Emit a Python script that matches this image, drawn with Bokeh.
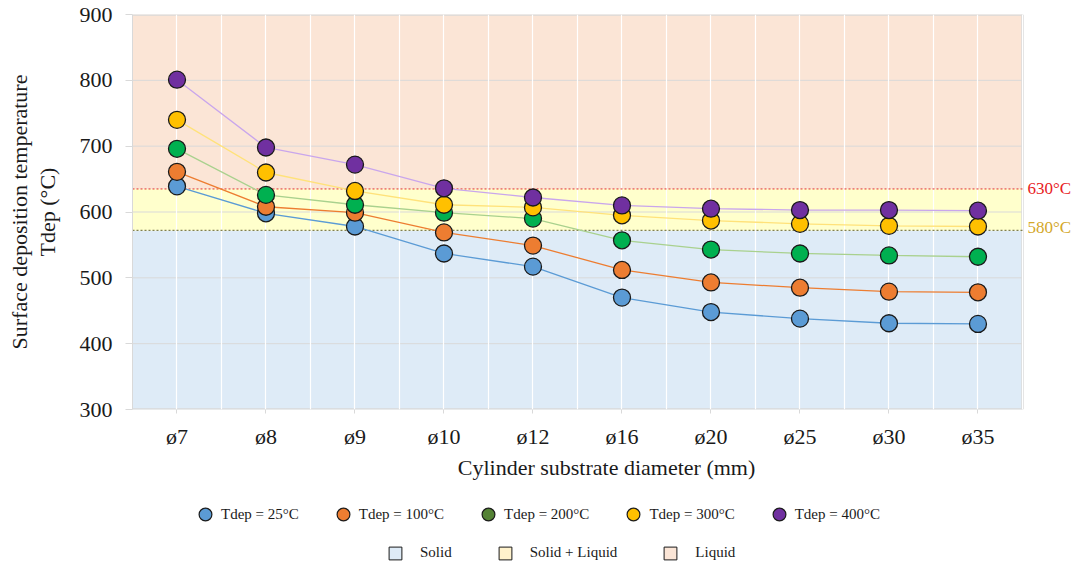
from bokeh.plotting import figure
from bokeh.layouts import column
from bokeh.models import (Range1d, FixedTicker, Label, Legend, LegendItem,
                          ColumnDataSource, LinearAxis)
from bokeh.embed import file_html
from bokeh.resources import INLINE

# ---------------- data ----------------
categories = ["ø7", "ø8", "ø9", "ø10", "ø12", "ø16", "ø20", "ø25", "ø30", "ø35"]
t25 = [639, 598, 578, 537, 517, 470, 448, 438, 431, 430]
t100 = [661, 608, 599, 569, 549, 512, 493, 485, 479, 478]
t200 = [696, 626, 611, 599, 590, 557, 543, 537, 534, 532]
t300 = [740, 660, 632, 611, 607, 595, 587, 582, 579, 578]
t400 = [801, 698, 672, 636, 622, 610, 605, 603, 603, 602]
series_names = ["Tdep = 25°C", "Tdep = 100°C", "Tdep = 200°C", "Tdep = 300°C", "Tdep = 400°C"]

band_names = ["Solid", "Solid + Liquid", "Liquid"]
band_bottom = [300, 572, 635]
band_top = [572, 635, 900]
threshold_labels = ["630°C", "580°C"]
y_ticks = [300, 400, 500, 600, 700, 800, 900]

# ---------------- styles ----------------
FONT = "Liberation Serif"
TXT = "#1A1A1A"
marker_colors = ["#5B9BD5", "#ED7D31", "#00B050", "#FFC000", "#7030A0"]
legend_marker_colors = ["#5B9BD5", "#ED7D31", "#548235", "#FFC000", "#7030A0"]
line_colors = ["#5B9BD5", "#ED7D31", "#A9D18E", "#FFE27A", "#C9A6EC"]
band_colors = ["#DEEBF7", "#FFFFCC", "#FBE5D6"]
legend_band_colors = ["#DEEBF7", "#FFF2CC", "#FBE5D6"]
BORDER = "#D9D9D9"

n = len(categories)
x = list(range(n))
x_lo, x_hi = -0.5, n - 0.5
y_lo, y_hi = y_ticks[0], y_ticks[-1]

# frame extends to the right edge so that the threshold labels can sit beside the plot
p = figure(width=1080, height=482, output_backend="svg", toolbar_location=None,
           x_range=Range1d(x_lo, x_hi + 0.652), y_range=Range1d(y_lo, y_hi),
           min_border_left=132, min_border_right=0, min_border_top=14, min_border_bottom=0)
p.background_fill_color = "white"
p.border_fill_color = "white"
p.outline_line_color = None

# background bands
for b0, b1, c in zip(band_bottom, band_top, band_colors):
    p.quad(left=[x_lo], right=[x_hi], bottom=[b0], top=[b1],
           fill_color=c, line_color=None, level="image")

# grids
p.xgrid.ticker = FixedTicker(ticks=[x_lo + i * 0.5 for i in range(2 * n + 1)])
p.xgrid.grid_line_color = "white"
p.xgrid.grid_line_width = 1.2
p.ygrid.grid_line_color = None
inner = y_ticks[1:-1]
p.segment(x0=[x_lo] * len(inner), x1=[x_hi] * len(inner), y0=inner, y1=inner,
          line_color=BORDER, line_width=1, level="underlay")
# plot-area border (top, bottom, right)
p.segment(x0=[x_lo, x_lo, x_hi], x1=[x_hi, x_hi, x_hi], y0=[y_lo, y_hi, y_lo],
          y1=[y_lo, y_hi, y_hi], line_color=BORDER, line_width=2.5, level="underlay")

# threshold lines
p.segment(x0=[x_lo], x1=[x_hi], y0=[band_top[1]], y1=[band_top[1]],
          line_color="#E03030", line_dash="2 2", line_width=1)
p.segment(x0=[x_lo], x1=[x_hi], y0=[band_top[0]], y1=[band_top[0]],
          line_color="#7F7F50", line_dash="2 2", line_width=1.3)
p.add_layout(Label(x=x_hi, y=band_top[1], x_offset=5, text=threshold_labels[0],
                   text_color="#E8201C", text_font=FONT, text_font_size="17px",
                   text_baseline="middle"))
p.add_layout(Label(x=x_hi, y=band_top[0], x_offset=5, y_offset=3,
                   text=threshold_labels[1],
                   text_color="#D4A82A", text_font=FONT, text_font_size="17px",
                   text_baseline="middle"))

# series
for vals, lc, mc in zip([t25, t100, t200, t300, t400], line_colors, marker_colors):
    src = ColumnDataSource(dict(x=x, y=vals))
    p.line("x", "y", source=src, line_color=lc, line_width=1.3)
    p.scatter("x", "y", source=src, size=17, fill_color=mc, line_color=TXT,
              line_width=1.3)

# axes
p.xaxis.ticker = FixedTicker(ticks=x)
p.xaxis.major_label_overrides = {i: c for i, c in enumerate(categories)}
p.xaxis.axis_label = "Cylinder substrate diameter (mm)"
p.yaxis.ticker = FixedTicker(ticks=y_ticks)
p.yaxis.axis_label = "Tdep (°C)"
for ax in (p.xaxis[0], p.yaxis[0]):
    ax.major_label_text_font = FONT
    ax.major_label_text_font_size = "22px"
    ax.major_label_text_color = TXT
    ax.axis_label_text_font = FONT
    ax.axis_label_text_font_size = "22px"
    ax.axis_label_text_font_style = "normal"
    ax.axis_label_text_color = TXT
    ax.minor_tick_line_color = None
    ax.axis_line_color = BORDER
    ax.major_tick_line_color = BORDER
p.xaxis.axis_line_color = None
p.xaxis.major_tick_out = 4
p.xaxis.major_tick_in = 0
p.xaxis.major_label_standoff = 10
p.xaxis.axis_label_standoff = 3
p.yaxis.major_tick_out = 7
p.yaxis.major_tick_in = 0
p.yaxis.major_label_standoff = 13
p.yaxis.axis_label_standoff = 17

# outer y-axis title line
outer = LinearAxis(ticker=FixedTicker(ticks=[]), axis_line_color=None,
                   major_tick_line_color=None, minor_tick_line_color=None,
                   axis_label="Surface deposition temperature", axis_label_standoff=0,
                   axis_label_text_font=FONT, axis_label_text_font_size="22px",
                   axis_label_text_font_style="normal", axis_label_text_color=TXT)
p.add_layout(outer, "left")

# ---------------- legend strip ----------------
pl = figure(width=1080, height=85, output_backend="svg", toolbar_location=None,
            x_range=Range1d(0, 1), y_range=Range1d(0, 1),
            min_border=0)
pl.axis.visible = False
pl.grid.visible = False
pl.outline_line_color = None
pl.background_fill_color = "white"

legend_marker_items = []
for name, c in zip(series_names, legend_marker_colors):
    r = pl.scatter(x=[-5], y=[-5], size=13, fill_color=c, line_color=TXT, line_width=1.2)
    legend_marker_items.append(LegendItem(label=name, renderers=[r]))
legend_band_items = []
for name, c in zip(band_names, legend_band_colors):
    r = pl.quad(left=[-5], right=[-4], bottom=[-5], top=[-4], fill_color=c,
                line_color=TXT, line_width=1)
    legend_band_items.append(LegendItem(label=name, renderers=[r]))

lg1 = Legend(items=legend_marker_items, orientation="horizontal", location=(57, 37),
             label_text_font=FONT, label_text_font_size="15px", label_text_color=TXT,
             spacing=28, glyph_width=32, glyph_height=32, label_standoff=0,
             border_line_color=None, background_fill_alpha=0, padding=4, margin=0)
lg2 = Legend(items=legend_band_items, orientation="horizontal", location=(255, 6),
             label_text_font=FONT, label_text_font_size="15px", label_text_color=TXT,
             spacing=45, glyph_width=16, glyph_height=16, label_standoff=17,
             border_line_color=None, background_fill_alpha=0, padding=4, margin=0)
pl.add_layout(lg1)
pl.add_layout(lg2)

layout = column(p, pl, spacing=0)
open("out.html", "w").write(file_html(layout, INLINE))
